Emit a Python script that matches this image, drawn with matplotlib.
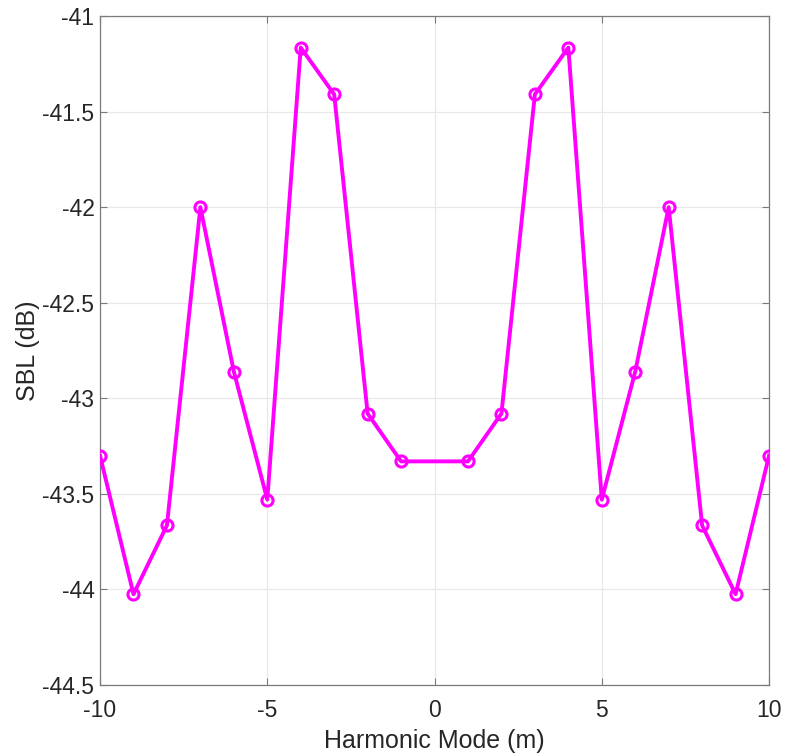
import matplotlib
matplotlib.use("Agg")
import matplotlib.pyplot as plt

# Sideband level per harmonic mode (m = 0 not computed)
modes = [-10, -9, -8, -7, -6, -5, -4, -3, -2, -1, 1, 2, 3, 4, 5, 6, 7, 8, 9, 10]
sbl_db = [-43.30, -44.025, -43.665, -42.00, -42.86, -43.53, -41.165, -41.41, -43.08, -43.33,
          -43.33, -43.08, -41.41, -41.165, -43.53, -42.86, -42.00, -43.665, -44.025, -43.30]

x_ticks = [-10, -5, 0, 5, 10]
y_ticks = [-44.5, -44, -43.5, -43, -42.5, -42, -41.5, -41]

plt.rcParams['font.family'] = ['Liberation Sans', 'DejaVu Sans']

fig = plt.figure(figsize=(7.99, 7.56), dpi=100)
ax = fig.add_axes([0.1252, 0.0939, 0.8373, 0.8849])

ax.plot(modes, sbl_db, color='#FF00FF', linewidth=2.8, marker='o',
        markersize=8, markerfacecolor='none', markeredgewidth=2.2,
        markeredgecolor='#FF00FF', zorder=3)

ax.set_xlim(-10, 10)
ax.set_ylim(-44.5, -41)
ax.set_xticks(x_ticks)
ax.set_yticks(y_ticks)
ax.set_xticklabels([f"{v:g}" for v in x_ticks])
ax.set_yticklabels([f"{v:g}" for v in y_ticks])

ax.grid(True, color='#e8e8e8', linewidth=0.9)
ax.set_axisbelow(True)

for s in ax.spines.values():
    s.set_color('#7a7a7a')
    s.set_linewidth(0.9)

ax.tick_params(direction='in', length=5, width=0.8, color='#7a7a7a',
               labelsize=16.5, labelcolor='#262626', top=True, right=True,
               labeltop=False, labelright=False)
ax.tick_params(axis='x', pad=10)
ax.tick_params(axis='y', pad=4)

ax.set_xlabel('Harmonic Mode (m)', fontsize=18, color='#262626', labelpad=5)
ax.set_ylabel('SBL (dB)', fontsize=18, color='#262626', labelpad=2)

fig.savefig('out.png', dpi=100)
